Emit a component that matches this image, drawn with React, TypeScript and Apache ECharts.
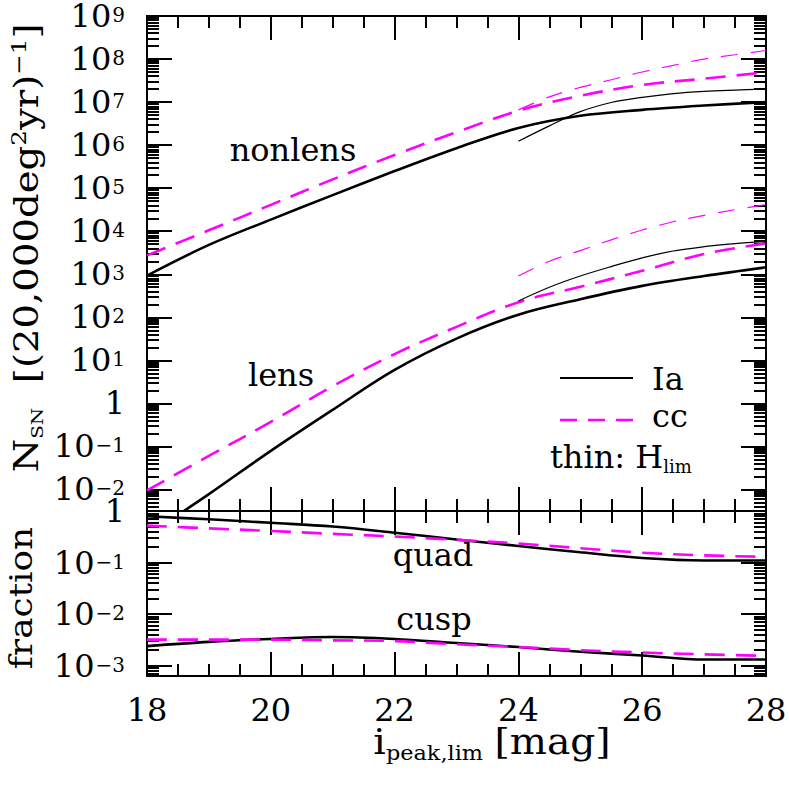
import React, { useEffect, useRef } from 'react';
import * as echarts from 'echarts';

// ---- data ----
const MAGS = [18, 19, 20, 21, 22, 23, 24, 25, 26, 27, 28];
const MAGS_THIN = [24, 24.5, 25, 25.5, 26, 26.5, 27, 27.5, 28];
const MAGS_LENS_IA = [18.6, 19, 20, 21, 22, 23, 24, 25, 26, 27, 28];

const NONLENS_IA = [930, 4800, 18600, 69000, 2.5e5, 8.5e5, 2.5e6, 4.8e6, 6.6e6, 8.3e6, 1.0e7];
const NONLENS_CC = [2750, 10500, 41000, 1.6e5, 5.9e5, 2.0e6, 6.3e6, 1.4e7, 2.5e7, 3.5e7, 4.9e7];
const NONLENS_IA_THIN = [1.23e6, 2.8e6, 6.0e6, 9.8e6, 1.29e7, 1.58e7, 1.78e7, 1.9e7, 2.0e7];
const NONLENS_CC_THIN = [6.6e6, 1.32e7, 2.2e7, 3.3e7, 5.0e7, 7.1e7, 1.0e8, 1.26e8, 1.58e8];

const LENS_IA = [0.0032, 0.0078, 0.079, 0.71, 6.0, 32, 115, 263, 537, 912, 1450];
const LENS_CC = [0.0095, 0.06, 0.37, 2.5, 14, 60, 224, 513, 1200, 2950, 5250];
const LENS_IA_THIN = [240, 500, 910, 1510, 2400, 3470, 4370, 5130, 5750];
const LENS_CC_THIN = [910, 2000, 3550, 6300, 10700, 16600, 23400, 31600, 41700];

const QUAD_IA = [0.79, 0.69, 0.59, 0.5, 0.38, 0.28, 0.21, 0.158, 0.123, 0.11, 0.11];
const QUAD_CC = [0.52, 0.46, 0.41, 0.36, 0.32, 0.275, 0.234, 0.19, 0.155, 0.138, 0.129];
const CUSP_IA = [0.0024, 0.0029, 0.0033, 0.0036, 0.0033, 0.00275, 0.0023, 0.00186, 0.00158, 0.00132, 0.00132];
const CUSP_CC = [0.0032, 0.0032, 0.0032, 0.0031, 0.003, 0.0026, 0.0023, 0.002, 0.0018, 0.00166, 0.00155];

// tick decades (exponents) and ranges
const TOP_DECADES = [-2, -1, 0, 1, 2, 3, 4, 5, 6, 7, 8, 9];
const BOTTOM_DECADES = [-3, -2, -1, 0];
const TOP_RANGE = [-2.5, 9];
const BOTTOM_RANGE = [-3.2, 0];

const FONT = 'DejaVu Serif';
const MAGENTA = '#ff00ff';
const BLACK = '#000000';

function pairs(xs: number[], ys: number[]) {
  return xs.map((x, i) => [x, Math.log10(ys[i])]);
}

function minorValues(lo: number, hi: number) {
  const out: number[] = [];
  for (let n = Math.floor(lo) - 1; n <= Math.ceil(hi); n++) {
    for (let k = 2; k <= 9; k++) {
      const v = n + Math.log10(k);
      if (v > lo + 1e-6 && v < hi - 1e-6) out.push(v);
    }
  }
  return out;
}

function expLabel(v: number) {
  const n = Math.round(v);
  if (n === 0) return '{b|1}';
  return '{b|10}{s|' + (n < 0 ? '\u2212' + -n : String(n)) + '}';
}

const labelRich = {
  b: { fontFamily: FONT, fontSize: 32, color: BLACK, lineHeight: 22, verticalAlign: 'middle' },
  s: { fontFamily: FONT, fontSize: 20, color: BLACK, lineHeight: 22, verticalAlign: 'top', padding: [0, 0, 0, 1] },
};

const axisLineStyle = { color: BLACK, width: 2 };

function yAxes(gridIndex: number, range: number[], decades: number[]) {
  const minor = minorValues(range[0], range[1]);
  const base = {
    type: 'value',
    gridIndex,
    min: range[0],
    max: range[1],
    splitLine: { show: false },
    axisLine: { show: true, onZero: false, lineStyle: axisLineStyle },
  };
  const major = { show: true, inside: true, length: 25, customValues: decades, lineStyle: { color: BLACK, width: 2 } };
  const small = { show: true, inside: true, length: 12, customValues: minor, lineStyle: { color: BLACK, width: 2 } };
  return [
    {
      ...base,
      position: 'left',
      axisTick: major,
      axisLabel: { show: true, customValues: decades, formatter: expLabel, margin: 22, rich: labelRich },
    },
    { ...base, position: 'left', axisTick: small, axisLabel: { show: false } },
    { ...base, position: 'right', axisTick: major, axisLabel: { show: false } },
    { ...base, position: 'right', axisTick: small, axisLabel: { show: false } },
  ];
}

function xAxes(gridIndex: number, showLabels: boolean) {
  const base = {
    type: 'value',
    gridIndex,
    min: 18,
    max: 28,
    interval: 2,
    splitLine: { show: false },
    axisLine: { show: true, onZero: false, lineStyle: axisLineStyle },
    axisTick: { show: true, inside: true, length: 24, lineStyle: { color: BLACK, width: 2 } },
    minorTick: { show: true, splitNumber: 4, length: 12, lineStyle: { color: BLACK, width: 2 } },
  };
  return [
    {
      ...base,
      position: 'bottom',
      axisLabel: showLabels
        ? { show: true, fontFamily: FONT, fontSize: 32, color: BLACK, margin: 18 }
        : { show: false },
    },
    { ...base, position: 'top', axisLabel: { show: false } },
  ];
}

function line(data: number[][], xi: number, yi: number, color: string, width: number, dash: any) {
  return {
    type: 'line',
    xAxisIndex: xi,
    yAxisIndex: yi,
    data,
    symbol: 'none',
    showSymbol: false,
    smooth: 0.35,
    clip: true,
    silent: true,
    lineStyle: { color, width, type: dash },
  };
}

const THICK_DASH = [20, 11];
const THIN_DASH = [17, 13];

export default function App() {
  const ref = useRef<HTMLDivElement>(null);
  useEffect(() => {
    if (!ref.current) return;
    const chart = echarts.init(ref.current, undefined, { renderer: 'svg' });
    const txt = (x: number, y: number, text: string, extra: any = {}) => ({
      type: 'text',
      x,
      y,
      silent: true,
      style: {
        text,
        fill: BLACK,
        fontFamily: FONT,
        fontSize: 32,
        align: 'center',
        verticalAlign: 'middle',
        ...extra,
      },
    });
    const option: any = {
      animation: false,
      backgroundColor: '#ffffff',
      grid: [
        { left: 147, top: 16, width: 619, height: 495, outerBoundsMode: 'none' },
        { left: 147, top: 511, width: 619, height: 165, outerBoundsMode: 'none' },
      ],
      xAxis: [...xAxes(0, false), ...xAxes(1, true)],
      yAxis: [...yAxes(0, TOP_RANGE, TOP_DECADES), ...yAxes(1, BOTTOM_RANGE, BOTTOM_DECADES)],
      series: [
        line(pairs(MAGS, NONLENS_IA), 0, 0, BLACK, 2.6, 'solid'),
        line(pairs(MAGS, NONLENS_CC), 0, 0, MAGENTA, 2.6, THICK_DASH),
        line(pairs(MAGS_THIN, NONLENS_IA_THIN), 0, 0, BLACK, 1.2, 'solid'),
        line(pairs(MAGS_THIN, NONLENS_CC_THIN), 0, 0, MAGENTA, 1.2, THIN_DASH),
        line(pairs(MAGS_LENS_IA, LENS_IA), 0, 0, BLACK, 2.6, 'solid'),
        line(pairs(MAGS, LENS_CC), 0, 0, MAGENTA, 2.6, THICK_DASH),
        line(pairs(MAGS_THIN, LENS_IA_THIN), 0, 0, BLACK, 1.2, 'solid'),
        line(pairs(MAGS_THIN, LENS_CC_THIN), 0, 0, MAGENTA, 1.2, THIN_DASH),
        line(pairs(MAGS, QUAD_IA), 2, 4, BLACK, 2.6, 'solid'),
        line(pairs(MAGS, QUAD_CC), 2, 4, MAGENTA, 2.6, THICK_DASH),
        line(pairs(MAGS, CUSP_IA), 2, 4, BLACK, 2.6, 'solid'),
        line(pairs(MAGS, CUSP_CC), 2, 4, MAGENTA, 2.6, THICK_DASH),
      ],
      graphic: [
        txt(293, 150, 'nonlens'),
        txt(281, 375, 'lens'),
        txt(433, 555, 'quad'),
        txt(434, 619, 'cusp'),
        {
          type: 'line',
          silent: true,
          shape: { x1: 560, y1: 378, x2: 633, y2: 378 },
          style: { stroke: BLACK, lineWidth: 2 },
        },
        txt(652, 379, 'Ia', { align: 'left' }),
        {
          type: 'line',
          silent: true,
          shape: { x1: 560, y1: 420, x2: 633, y2: 420 },
          style: { stroke: MAGENTA, lineWidth: 2.6, lineDash: [17, 11] },
        },
        txt(652, 416, 'cc', { align: 'left' }),
        txt(550, 457, '{a|thin: H}{sub|lim}', {
          align: 'left',
          rich: {
            a: { fontFamily: FONT, fontSize: 32, fill: BLACK, lineHeight: 36, verticalAlign: 'middle' },
            sub: { fontFamily: FONT, fontSize: 18, fill: BLACK, lineHeight: 36, verticalAlign: 'bottom' },
          },
        }),
        // x axis title
        {
          ...txt(492, 742, '{a|i}{sub|peak,lim} {a|[mag]}', {
            rich: {
              a: { fontFamily: FONT, fontSize: 35, fill: BLACK, lineHeight: 42, verticalAlign: 'middle' },
              sub: { fontFamily: FONT, fontSize: 20, fill: BLACK, lineHeight: 42, verticalAlign: 'bottom' },
            },
          }),
          scaleX: 1.12,
        },
        // y axis title (top)
        {
          type: 'text',
          x: 27,
          y: 248,
          rotation: Math.PI / 2,
          scaleX: 1.17,
          silent: true,
          style: {
            text: '{a|N}{sub|SN}  {a|[(20,000deg}{sup|2}{a|yr)}{sup|\u22121}{a|]}',
            fill: BLACK,
            fontFamily: FONT,
            fontSize: 33,
            align: 'center',
            verticalAlign: 'middle',
            rich: {
              a: { fontFamily: FONT, fontSize: 33, fill: BLACK, lineHeight: 38, verticalAlign: 'middle' },
              sub: { fontFamily: FONT, fontSize: 17, fill: BLACK, lineHeight: 38, verticalAlign: 'bottom' },
              sup: { fontFamily: FONT, fontSize: 21, fill: BLACK, lineHeight: 38, verticalAlign: 'top' },
            },
          },
        },
        // y axis title (bottom)
        {
          type: 'text',
          x: 21,
          y: 598,
          rotation: Math.PI / 2,
          scaleX: 1.12,
          silent: true,
          style: {
            text: 'fraction',
            fill: BLACK,
            fontFamily: FONT,
            fontSize: 32,
            align: 'center',
            verticalAlign: 'middle',
          },
        },
      ],
    };
    chart.setOption(option);
    return () => chart.dispose();
  }, []);
  return (
    <div
      ref={ref}
      style={{ position: 'fixed', left: 0, top: 0, width: 789, height: 789, background: '#fff' }}
    />
  );
}
